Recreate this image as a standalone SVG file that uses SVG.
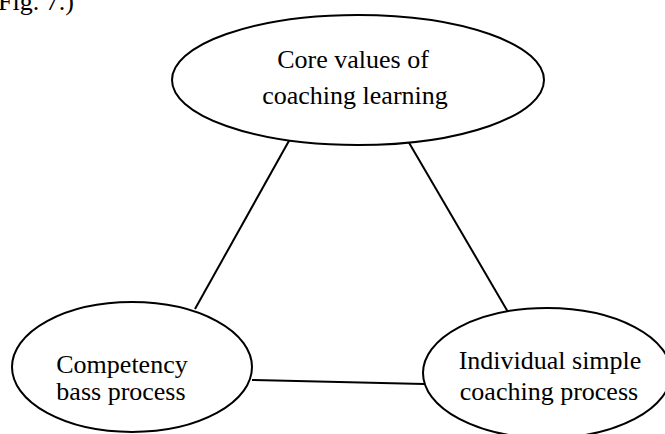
<svg xmlns="http://www.w3.org/2000/svg" width="665" height="434" viewBox="0 0 665 434">
<style>
.n{fill:#fff;stroke:#000;stroke-width:2}
.t{font-family:"Liberation Serif",serif;font-size:26px;fill:#000;text-anchor:middle}
.c{stroke:#000;stroke-width:2;fill:none}
</style>
<rect width="665" height="434" fill="#fff"/>
<text x="-2" y="10" style="font-family:'Liberation Serif',serif;font-size:26px">Fig. 7.)</text>
<g id="connectors">
<line class="c" x1="290" y1="139" x2="195" y2="309"/>
<line class="c" x1="408" y1="141" x2="508" y2="312"/>
<line class="c" x1="252" y1="380" x2="424" y2="384"/>
</g>
<g id="core">
<ellipse class="n" cx="358" cy="80" rx="186" ry="65"/>
<text class="t" x="353" y="68">Core values of</text>
<text class="t" x="355" y="104">coaching learning</text>
</g>
<g id="competency">
<ellipse class="n" cx="132" cy="367" rx="120" ry="65"/>
<text class="t" x="122" y="373">Competency</text>
<text class="t" x="121" y="400">bass process</text>
</g>
<g id="individual">
<ellipse class="n" cx="547" cy="373" rx="124" ry="65"/>
<text class="t" x="550" y="369">Individual simple</text>
<text class="t" x="549" y="400">coaching process</text>
</g>
</svg>
